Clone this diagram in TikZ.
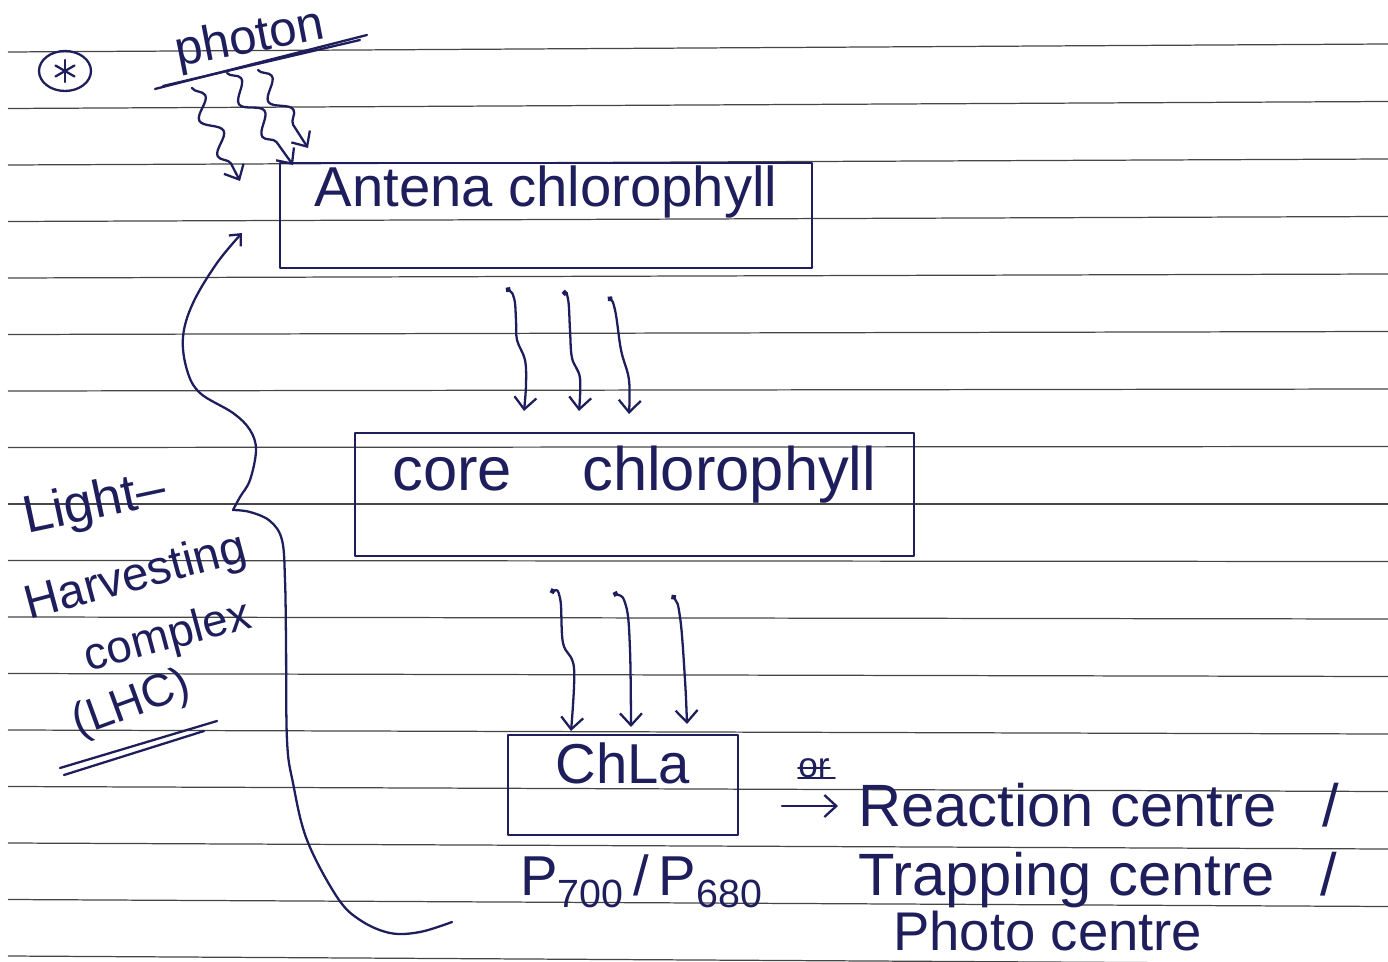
\documentclass[tikz,border=0pt]{standalone}
\usepackage{fontspec}
\setmainfont{Liberation Sans}
\usetikzlibrary{arrows.meta,decorations.pathmorphing,shapes.geometric}
\definecolor{ink}{RGB}{30,30,92}
\definecolor{ruling}{RGB}{70,70,70}

\begin{document}
\begin{tikzpicture}[
  x=0.02cm, y=-0.02cm,
  ruled/.style = {draw=ruling, line width=0.7pt},
  pen/.style   = {draw=ink, line width=1.3pt, line cap=round, line join=round},
  box/.style   = {pen, line width=1.6pt, inner sep=0pt, text=ink},
  hand/.style  = {text=ink, inner sep=0pt, font=\fontsize{#1}{#1}\selectfont},
  barb/.style  = {pen, -{Straight Barb[length=2.4mm, width=4.4mm]}},
  drip/.style  = {pen, {Circle[length=1.1mm]}-{Straight Barb[length=2.4mm, width=4.4mm]}},
  wavy/.style  = {barb, decorate, decoration={snake, amplitude=1.7mm,
                  segment length=8mm, post length=2.5mm}},
]
% paper
\fill[white] (0,0) rectangle (1388,962);
\useasboundingbox (0,0) rectangle (1388,962);
\foreach \k in {0,...,16}
  \draw[ruled] (8,{52+56.5*\k}) -- (1388,{44+57.5*\k});

% heading mark and photon
\node[ellipse, draw=ink, line width=1.3pt, minimum width=1.04cm,
      minimum height=0.8cm, inner sep=0pt] (mark) at (65,71) {};
\foreach \a in {90,30,150}
  \draw[pen] ([shift={(\a:11)}]mark.center) -- ([shift={(\a+180:11)}]mark.center);
\node[hand=28, rotate=11] (photon) at (250,40) {photon};
\draw[pen] (155,89) -- (367,35);
\draw[pen] (163,86) -- (360,40);

% boxes
\node[box, hand=32, minimum width=10.64cm, text height=0.88cm, text depth=1.22cm]
  (antena) at (546,215.5) {Antena chlorophyll};
\node[box, hand=35, minimum width=11.18cm, text height=1.14cm, text depth=1.32cm]
  (core) at (634.5,494.5) {core\hspace{40pt}chlorophyll};
\node[box, hand=32, minimum width=4.6cm, text height=0.96cm, text depth=1.04cm]
  (chla) at (623,785) {ChLa};

% photon arrows
\coordinate (pa1) at (192,88);  \coordinate (pb1) at (240,181);
\coordinate (pa2) at (227,73);  \coordinate (pb2) at (293,165);
\coordinate (pa3) at (258,70);  \coordinate (pb3) at (308,148);
\draw[wavy] (pa1) -- (pb1);
\draw[wavy] (pa2) -- (pb2);
\draw[wavy] (pa3) -- (pb3);

% antena -> core
\coordinate (ma1) at (506,288); \coordinate (mb1) at (524,411);
\coordinate (ma2) at (562,293); \coordinate (mb2) at (579,411);
\coordinate (ma3) at (608,297); \coordinate (mb3) at (629,414);
\draw[drip] plot[smooth, tension=0.6] coordinates {(ma1) (514,298) (516,320) (517,340) (525,360) (526,385) (mb1)};
\draw[drip] plot[smooth, tension=0.6] coordinates {(ma2) (568,299) (570,330) (572,358) (580,378) (mb2)};
\draw[drip] plot[smooth, tension=0.6] coordinates {(ma3) (615,310) (621,350) (629,380) (mb3)};

% core -> ChLa
\coordinate (la1) at (550,592); \coordinate (lb1) at (571,731);
\coordinate (la2) at (613,593); \coordinate (lb2) at (631,727);
\coordinate (la3) at (672,595); \coordinate (lb3) at (687,724);
\draw[drip] plot[smooth, tension=0.6] coordinates {(la1) (560,598) (563,643) (574,668) (lb1)};
\draw[drip] plot[smooth, tension=0.6] coordinates {(la2) (626,606) (630,650) (lb2)};
\draw[drip] plot[smooth, tension=0.6] coordinates {(la3) (680,617) (685,680) (lb3)};

% reaction centre names
\node[hand=20] (ortext) at (814,768) {or};
\draw[pen, line width=1pt] (ortext.west) -- (ortext.east);
\draw[pen, line width=1pt] (ortext.south west) -- ([xshift=1mm]ortext.south east);
\node[hand=34, anchor=base west] (reaction) at (858,826) {Reaction centre\hspace{26pt}/};
\node[hand=34, anchor=base west] (trapping) at (858,895) {Trapping centre\hspace{26pt}/};
\node[hand=31, anchor=base west] (photoc) at (893,950) {Photo centre};
\coordinate (rarr) at (782,806);
\draw[barb] (rarr) -- ([xshift=-0.4cm]reaction.west |- rarr);
\node[hand=32, anchor=base west] (pnum) at (520,895)
  {P\textsubscript{700}\,/\,P\textsubscript{680}};

% light harvesting complex
\node[hand=30, rotate=12] (light) at (95,505) {Light--};
\node[hand=27, rotate=15] (harvest) at (136,578) {Harvesting};
\node[hand=26, rotate=15] (complex) at (168,638) {complex};
\node[hand=26, rotate=20] (lhc) at (132,705) {(LHC)};
\draw[pen] (60,768) -- (217,721);
\draw[pen] (64,775) -- (204,731);

\coordinate (lhcend) at (452,922);
\coordinate (lhcknee) at (233,510);
\coordinate (lhctip) at (242,233);
\draw[pen] plot[smooth, tension=0.6] coordinates {(lhcend) (420,932) (390,933) (360,920) (337,897) (307,840) (293,783) (287,740) (286,640) (285,580) (282,540) (270,521) (250,512) (lhcknee)};
\draw[pen, -{Straight Barb[length=1.8mm, width=3.2mm]}] plot[smooth, tension=0.6] coordinates {(lhcknee) (240,497) (250,480) (256,450) (250,430) (233,413) (200,393) (187,370) (183,337) (193,303) (217,263) (lhctip)};
\end{tikzpicture}
\end{document}
